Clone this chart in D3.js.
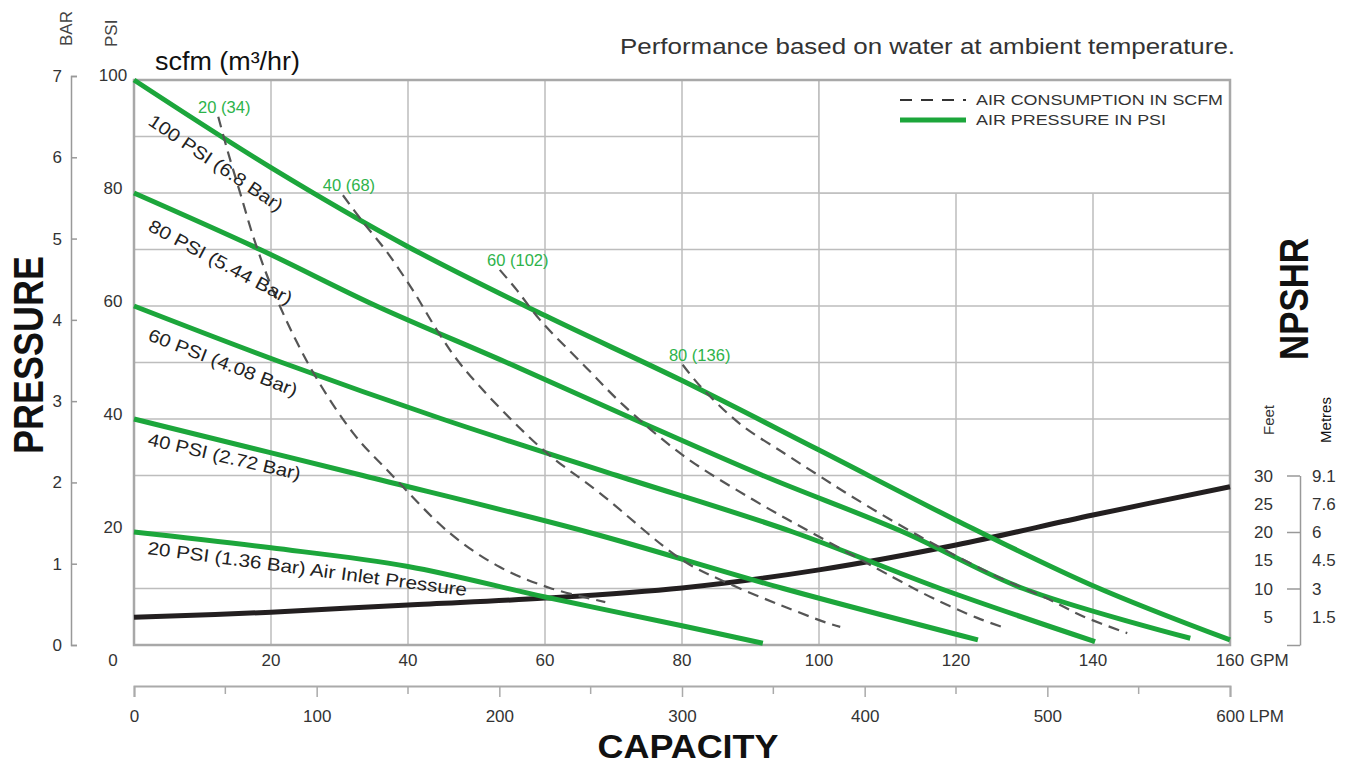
<!DOCTYPE html>
<html>
<head>
<meta charset="utf-8">
<script src="https://cdn.jsdelivr.net/npm/d3@7"></script>
<style>
  body { margin: 0; background: #fff; }
  svg text { font-family: "Liberation Sans", Arial, sans-serif; }
  .grid { stroke: #bdbdbd; stroke-width: 1.5; }
  .tick-lbl { font-size: 17px; fill: #333; }
  .psi-line { fill: none; stroke: #1ca63b; stroke-width: 5; }
  .air-line { fill: none; stroke: #555; stroke-width: 2.2; stroke-dasharray: 11,7; }
  .npsh-line { fill: none; stroke: #231f20; stroke-width: 5; }
</style>
</head>
<body>
<svg id="chart" width="1354" height="766"></svg>
<script>
// ticks
var gpmTicks = [20, 40, 60, 80, 100, 120, 140, 160];
var psiTicks = [20, 40, 60, 80, 100];
var barTicks = [0, 1, 2, 3, 4, 5, 6, 7];
var lpmTicks = [0, 100, 200, 300, 400, 500, 600];
var lpmMinor = [50, 150, 250, 350, 450, 550];
var feetTicks = [5, 10, 15, 20, 25, 30];
var metreLabels = ["1.5", "3", "4.5", "6", "7.6", "9.1"];

// air pressure curves [gpm, psi]
var psi100 = [[0, 100], [20, 84.5], [40, 70.5], [60, 58.3], [80, 46.8], [100, 34.5], [120, 22.1], [140, 10.5], [160, 0.9]];
var psi80 = [[0, 80], [18.4, 70], [35.4, 60], [54.4, 50], [72.9, 40], [91.8, 30], [112.3, 20], [129.8, 10], [154.2, 1.2]];
var psi60 = [[0, 60], [21.6, 50], [45, 40], [70.5, 30], [96.2, 20], [117.7, 10], [140.3, 0.6]];
var psi40 = [[0, 40], [33.4, 30], [66.2, 20], [94.8, 10], [123.2, 0.9]];
var psi20 = [[0, 20], [20, 17.2], [40, 13.9], [60, 8.5], [80, 3.4], [91.8, 0.3]];
var psiNames = ["100 PSI (6.8 Bar)", "80 PSI (5.44 Bar)", "60 PSI (4.08 Bar)", "40 PSI (2.72 Bar)", "20 PSI (1.36 Bar) Air Inlet Pressure"];

// air consumption curves [gpm, psi]
var air20 = [[12.3, 93.5], [13.7, 87.3], [15.5, 80], [17.7, 71.2], [20.6, 61.9], [25.7, 49.2], [32, 37.5], [37.4, 30.4], [46.1, 19.8], [53.4, 13.8], [60.7, 10.1], [68.8, 7.6]];
var air40 = [[30.5, 79.6], [33.4, 74.9], [36.9, 69.6], [40.7, 62.8], [44.2, 55.8], [48, 49.2], [59.3, 35], [68, 26.9], [80.1, 15], [86.6, 11], [94.3, 7.1], [101.2, 3.9], [103.1, 3.2]];
var air60 = [[53.4, 66.4], [55.9, 62.8], [59.3, 57.5], [66.1, 49], [71.4, 42.5], [80.1, 33.6], [90.4, 25.7], [100.1, 19.1], [110.8, 12], [116.6, 8.3], [123.1, 4.8], [126.7, 3.2]];
var air80 = [[80.1, 49.6], [82.6, 45.9], [88.5, 39.1], [95.1, 33.8], [100.1, 29.9], [104.5, 26.5], [114.3, 19.5], [125, 12.7], [133.7, 8], [138.5, 5.1], [145, 2.1]];
var airNames = ["20 (34)", "40 (68)", "60 (102)", "80 (136)"];

// NPSHR [gpm, feet]
var npshr = [[0, 4.9], [20, 5.8], [40, 7.1], [60, 8.3], [80, 10.1], [100, 13.3], [120, 17.7], [140, 23], [160, 28]];

var svg = d3.select("#chart");
var x = d3.scaleLinear().domain([0, 160]).range([134, 1230]);
var y = d3.scaleLinear().domain([0, 100]).range([645, 80]);
var yBar = d3.scaleLinear().domain([0, 7]).range([645, 76]);
var yFt = d3.scaleLinear().domain([0, 30]).range([645, 475.5]);
var xLpm = d3.scaleLinear().domain([0, 600]).range([134, 1230]);
var green = "#1ca63b";

// grid
var g = svg.append("g");
g.selectAll(".vg").data(d3.range(20, 160, 20)).enter().append("line")
  .attr("class", "grid")
  .attr("x1", function(d) { return x(d); }).attr("x2", function(d) { return x(d); })
  .attr("y1", y(0)).attr("y2", y(100));
g.selectAll(".hg").data(d3.range(10, 100, 10)).enter().append("line")
  .attr("class", "grid")
  .attr("x1", x(0)).attr("x2", x(160))
  .attr("y1", function(d) { return y(d); }).attr("y2", function(d) { return y(d); });
// legend box covers grid
g.append("rect")
  .attr("x", x(100)).attr("y", y(100))
  .attr("width", x(160) - x(100)).attr("height", y(80) - y(100))
  .attr("fill", "#fff").attr("stroke", "#bdbdbd").attr("stroke-width", 1.5);
g.append("rect")
  .attr("x", x(0)).attr("y", y(100))
  .attr("width", x(160) - x(0)).attr("height", y(0) - y(100))
  .attr("fill", "none").attr("stroke", "#a8a8a8").attr("stroke-width", 2.5);

var curve = d3.curveCatmullRom.alpha(0.5);
var line = d3.line()
  .x(function(d) { return x(d[0]); })
  .y(function(d) { return y(d[1]); })
  .curve(curve);

// NPSHR
svg.append("path").attr("class", "npsh-line")
  .attr("d", d3.line().x(function(d) { return x(d[0]); }).y(function(d) { return yFt(d[1]); }).curve(curve)(npshr));

// pressure lines
var psiSeries = [psi100, psi80, psi60, psi40, psi20];
svg.selectAll(".psi-line").data(psiSeries).enter().append("path")
  .attr("class", "psi-line")
  .attr("d", line);

// air lines
var airSeries = [air20, air40, air60, air80];
var airLblDx = [6, 6, 18, 17];
svg.selectAll(".air-line").data(airSeries).enter().append("path")
  .attr("class", "air-line")
  .attr("d", line);
svg.selectAll(".air-lbl").data(airSeries).enter().append("text")
  .attr("x", function(d, i) { return x(d[0][0]) + airLblDx[i]; })
  .attr("y", function(d) { return y(d[0][1]) - 4; })
  .attr("text-anchor", "middle")
  .attr("font-size", 16.5).attr("fill", "#2db34a")
  .text(function(d, i) { return airNames[i]; });

// psi line labels
var lblAngle = [34, 28, 21, 13, 7.5];
var lblDy = [44, 37, 34, 26, 22];
var lblLen = [158, 160, 158, 156, 322];
svg.selectAll(".psi-lbl").data(psiSeries).enter().append("text")
  .attr("transform", function(d, i) {
    return "translate(" + (x(0) + 13) + "," + (y(d[0][1]) + lblDy[i]) + ") rotate(" + lblAngle[i] + ")";
  })
  .attr("font-size", 18).attr("fill", "#222")
  .attr("textLength", function(d, i) { return lblLen[i]; })
  .attr("lengthAdjust", "spacingAndGlyphs")
  .text(function(d, i) { return psiNames[i]; });

// BAR axis
var barAxis = svg.append("g").attr("transform", "translate(71,0)")
  .call(d3.axisRight(yBar).tickValues(barTicks).tickFormat(d3.format("d")).tickSize(6).tickSizeOuter(6));
barAxis.select(".domain").attr("stroke", "#999").attr("stroke-width", 1.5);
barAxis.selectAll(".tick line").attr("stroke", "#999").attr("stroke-width", 1.5);
barAxis.selectAll(".tick text").attr("x", -9).attr("text-anchor", "end")
  .attr("class", "tick-lbl").attr("font-size", null).attr("font-family", null);

// PSI labels
svg.selectAll(".psi-tick").data(psiTicks).enter().append("text")
  .attr("class", "tick-lbl")
  .attr("x", 113).attr("y", function(d) { return y(d) + 1; })
  .attr("text-anchor", "middle")
  .text(function(d) { return d; });
svg.append("text").attr("class", "tick-lbl").attr("x", 113).attr("y", 666)
  .attr("text-anchor", "middle").text("0");

// GPM labels
svg.selectAll(".gpm-tick").data(gpmTicks).enter().append("text")
  .attr("class", "tick-lbl")
  .attr("x", function(d) { return x(d); }).attr("y", 666)
  .attr("text-anchor", "middle")
  .text(function(d) { return d; });
svg.append("text").attr("class", "tick-lbl").attr("x", x(160) + 20).attr("y", 666).text("GPM");

// LPM axis
var lpmAxis = svg.append("g").attr("transform", "translate(0,686)")
  .call(d3.axisBottom(xLpm).tickValues(lpmTicks).tickSize(11).tickSizeOuter(11).tickPadding(13));
lpmAxis.select(".domain").attr("stroke", "#aaa").attr("stroke-width", 2);
lpmAxis.selectAll(".tick line").attr("stroke", "#aaa").attr("stroke-width", 1.5);
lpmAxis.selectAll(".tick text").attr("class", "tick-lbl").attr("font-size", null).attr("font-family", null);
svg.append("g").selectAll("line").data(lpmMinor).enter().append("line")
  .attr("x1", function(d) { return xLpm(d); }).attr("x2", function(d) { return xLpm(d); })
  .attr("y1", 686).attr("y2", 694).attr("stroke", "#aaa").attr("stroke-width", 1.5);
svg.append("text").attr("class", "tick-lbl").attr("x", x(160) + 19).attr("y", 722).text("LPM");

// NPSHR bracket
var ftAxis = svg.append("g").attr("transform", "translate(1300,0)")
  .call(d3.axisLeft(yFt).tickValues([0, 10, 20, 30]).tickSize(13).tickSizeOuter(0).tickFormat(""));
ftAxis.select(".domain").attr("stroke", "#999").attr("stroke-width", 1.5);
ftAxis.selectAll(".tick line").attr("stroke", "#999").attr("stroke-width", 1.5);
svg.selectAll(".ft-lbl").data(feetTicks).enter().append("text")
  .attr("class", "tick-lbl")
  .attr("x", 1273).attr("y", function(d) { return yFt(d) + 6; })
  .attr("text-anchor", "end")
  .text(function(d) { return d; });
svg.selectAll(".m-lbl").data(metreLabels).enter().append("text")
  .attr("class", "tick-lbl")
  .attr("x", 1312).attr("y", function(d, i) { return yFt(feetTicks[i]) + 6; })
  .text(function(d) { return d; });

// legend
var leg = svg.append("g").attr("transform", "translate(900,100)");
leg.append("line").attr("x1", 0).attr("x2", 66).attr("y1", 0).attr("y2", 0)
  .attr("stroke", "#333").attr("stroke-width", 2.2).attr("stroke-dasharray", "12,9");
leg.append("text").attr("x", 76).attr("y", 5).attr("font-size", 15.5).attr("fill", "#333")
  .attr("textLength", 247).attr("lengthAdjust", "spacingAndGlyphs")
  .text("AIR CONSUMPTION IN SCFM");
leg.append("line").attr("x1", 0).attr("x2", 66).attr("y1", 20).attr("y2", 20)
  .attr("stroke", green).attr("stroke-width", 5);
leg.append("text").attr("x", 76).attr("y", 25).attr("font-size", 15.5).attr("fill", "#333")
  .attr("textLength", 190).attr("lengthAdjust", "spacingAndGlyphs")
  .text("AIR PRESSURE IN PSI");

// titles
svg.append("text").attr("x", 1235).attr("y", 54).attr("text-anchor", "end")
  .attr("font-size", 22).attr("fill", "#333")
  .attr("textLength", 615).attr("lengthAdjust", "spacingAndGlyphs")
  .text("Performance based on water at ambient temperature.");
svg.append("text").attr("x", 155).attr("y", 70).attr("font-size", 25).attr("fill", "#111")
  .attr("textLength", 145).attr("lengthAdjust", "spacingAndGlyphs")
  .text("scfm (m³/hr)");
svg.append("text").attr("transform", "translate(72,46) rotate(-90)")
  .attr("font-size", 17).attr("fill", "#444").text("BAR");
svg.append("text").attr("transform", "translate(117,47) rotate(-90)")
  .attr("font-size", 17).attr("fill", "#444").text("PSI");
svg.append("text").attr("transform", "translate(43,355) rotate(-90)")
  .attr("text-anchor", "middle").attr("font-size", 42).attr("font-weight", "bold")
  .attr("textLength", 198).attr("lengthAdjust", "spacingAndGlyphs").attr("fill", "#111")
  .text("PRESSURE");
svg.append("text").attr("x", 688).attr("y", 758)
  .attr("text-anchor", "middle").attr("font-size", 34).attr("font-weight", "bold")
  .attr("textLength", 181).attr("lengthAdjust", "spacingAndGlyphs").attr("fill", "#111")
  .text("CAPACITY");
svg.append("text").attr("transform", "translate(1308,299) rotate(-90)")
  .attr("text-anchor", "middle").attr("font-size", 40).attr("font-weight", "bold")
  .attr("textLength", 122).attr("lengthAdjust", "spacingAndGlyphs").attr("fill", "#111")
  .text("NPSHR");
svg.append("text").attr("transform", "translate(1274,420) rotate(-90)")
  .attr("text-anchor", "middle").attr("font-size", 15).attr("fill", "#333").text("Feet");
svg.append("text").attr("transform", "translate(1331,420) rotate(-90)")
  .attr("text-anchor", "middle").attr("font-size", 15).attr("fill", "#111").text("Metres");
</script>
</body>
</html>
